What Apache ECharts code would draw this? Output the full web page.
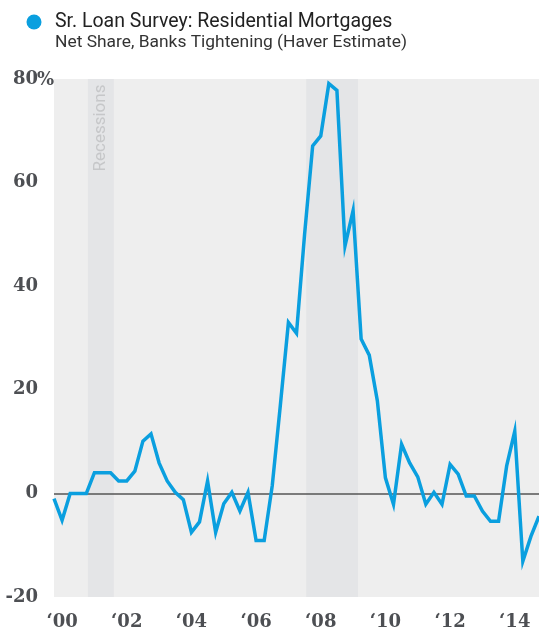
<!DOCTYPE html>
<html>
<head>
<meta charset="utf-8">
<script src="https://cdn.jsdelivr.net/npm/echarts@6/dist/echarts.min.js"></script>
<style>
  html, body { margin: 0; padding: 0; background: #fff; }
  #chart { width: 539px; height: 631px; }
</style>
</head>
<body>
<div id="chart"></div>
<script>
// quarterly readings, 2000 Q1 .. 2015 Q1 (net share of banks tightening, %)
const tightening = [
  -1.0, -5.2, 0, 0, 0, 4, 4, 4, 2.4, 2.4,
  4.3, 10.1, 11.5, 5.9, 2.4, 0.2, -1.2, -7.5, -5.5, 2.4,
  -7.5, -2, 0.2, -3.4, 0.2, -9.1, -9.1, 1.5, 17, 33,
  30.9, 50, 67.1, 69, 79.1, 77.8, 47.8, 54.6, 29.8, 26.7,
  17.9, 3.0, -2.1, 9.5, 5.9, 3.2, -2.1, 0.2, -2.1, 5.6,
  3.7, -0.5, -0.5, -3.4, -5.4, -5.4, 5.3, 12.0, -13.1, -8.3,
  -4.4
];
// x tick positions (quarter index) and their labels
const yearTicks = [1, 9, 17, 25, 33, 41, 49, 57];
const yearLabels = ['\u201800', '\u201802', '\u201804', '\u201806', '\u201808', '\u201810', '\u201812', '\u201814'];
// recession spans, in quarter index
const recessions = [[4.2, 7.4], [31.2, 37.6]];

const blue = '#0a9fdf';
const textGrey = '#4d4f53';
const axisFont = { color: textGrey, fontFamily: 'DejaVu Serif', fontWeight: 'bold', fontSize: 18 };

const chart = echarts.init(document.getElementById('chart'));

chart.setOption({
  animation: false,
  grid: {
    left: 54, right: 0, top: 79, bottom: 34,
    show: true, backgroundColor: '#eeeeee', borderWidth: 0
  },
  graphic: [
    { type: 'circle', shape: { cx: 34, cy: 22, r: 7.5 }, style: { fill: blue } },
    {
      type: 'text', left: 55, top: 12,
      style: { text: 'Sr. Loan Survey: Residential Mortgages', font: '19.5px Roboto', fill: '#222' }
    },
    {
      type: 'text', left: 55, top: 34,
      style: { text: 'Net Share, Banks Tightening (Haver Estimate)', font: '17.4px Roboto', fill: '#333' }
    },
    {
      type: 'text', x: 101, y: 128, rotation: Math.PI / 2, z: 100,
      style: { text: 'Recessions', font: '17px Roboto', fill: '#c6c7c9', align: 'center', verticalAlign: 'middle' }
    },
    {
      type: 'text', x: 37, y: 80, z: 100,
      style: { text: '%', font: 'bold 18px "DejaVu Serif"', fill: textGrey, align: 'left', verticalAlign: 'middle' }
    }
  ],
  xAxis: {
    type: 'value', min: 0, max: tightening.length - 1,
    axisLine: { show: false }, axisTick: { show: false }, splitLine: { show: false },
    axisLabel: Object.assign({
      customValues: yearTicks,
      margin: 16,
      formatter: v => yearLabels[yearTicks.indexOf(v)] || ''
    }, axisFont)
  },
  yAxis: {
    type: 'value', min: -20, max: 80, interval: 20,
    axisLine: { show: false }, axisTick: { show: false }, splitLine: { show: false },
    axisLabel: Object.assign({ margin: 16 }, axisFont)
  },
  series: [{
    type: 'line',
    data: tightening.map((v, i) => [i, v]),
    symbol: 'none',
    lineStyle: { color: blue, width: 3.5, join: 'miter' },
    z: 5,
    markArea: {
      silent: true,
      itemStyle: { color: '#e4e5e7' },
      data: recessions.map(r => [{ xAxis: r[0] }, { xAxis: r[1] }])
    },
    markLine: {
      silent: true, symbol: 'none',
      label: { show: false },
      lineStyle: { color: '#555', width: 1.5, type: 'solid' },
      data: [{ yAxis: 0 }]
    }
  }]
});
</script>
</body>
</html>
